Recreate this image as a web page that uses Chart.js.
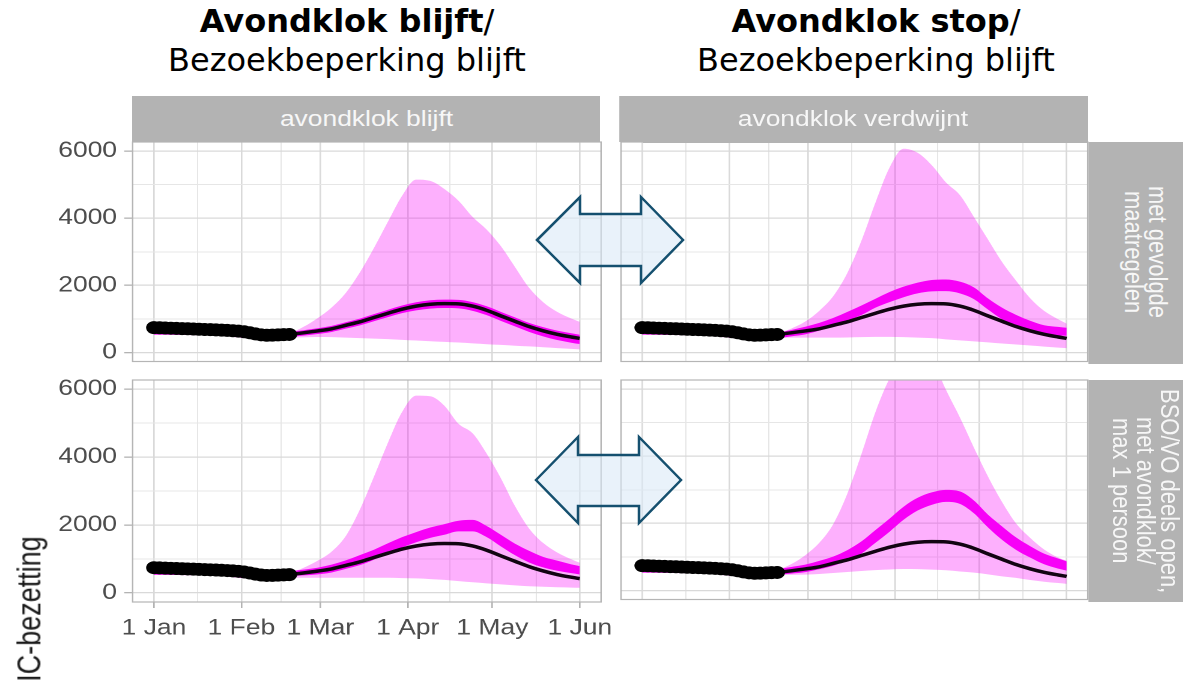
<!DOCTYPE html>
<html lang="nl">
<head>
<meta charset="utf-8">
<title>IC-bezetting per scenario</title>
<script src="https://cdn.jsdelivr.net/npm/chart.js@4.4.1/dist/chart.umd.min.js"></script>
<style>
  html, body { margin: 0; padding: 0; background: #fff; }
  body { width: 1183px; height: 689px; position: relative; overflow: hidden; }
  /* the original ggplot figure was pasted horizontally stretched */
  #fig { position: absolute; left: 0; top: 0; width: 986px; height: 689px; transform: scaleX(1.2); transform-origin: 0 0; }
  .panel { position: absolute; }
  .strip { position: absolute; background: #b3b3b3; color: #f7f7f7; font: 22px "Liberation Sans", Arial, sans-serif;
           display: flex; align-items: center; justify-content: center; overflow: hidden; white-space: nowrap; }
  .strip.side span { writing-mode: vertical-rl; text-align: center; line-height: 0.9; }
  #ytitle { position: absolute; left: 25px; top: 609px; transform: translate(-50%, -50%) rotate(-90deg);
            font: 27px "Liberation Sans", Arial, sans-serif; color: #1a1a1a; white-space: nowrap; }
  .title { position: absolute; top: 2px; width: 520px; text-align: center; color: #000;
           font: 32px/39px "DejaVu Sans", Verdana, sans-serif; }
  .title b { font-weight: bold; }
  #arrows { position: absolute; left: 0; top: 0; pointer-events: none; }
</style>
</head>
<body>
<div class="title" style="left:87px"><b>Avondklok blijft</b>/<br>Bezoekbeperking blijft</div>
<div class="title" style="left:616px"><b>Avondklok stop</b>/<br>Bezoekbeperking blijft</div>
<div id="fig">
  <div id="ytitle">IC-bezetting</div>
</div>
<svg id="arrows" width="1183" height="689">
  <g fill="#dbe9f6" fill-opacity="0.6" stroke="#15506f" stroke-width="2.5" stroke-linejoin="miter">
    <polygon points="537,240 580,197 580,214 641,214 641,197 683,240 641,283 641,266 580,266 580,283"/>
    <polygon points="536,480 578,437 578,455 639,455 639,437 681,480 639,523 639,506 578,506 578,523"/>
  </g>
</svg>
<script>
// ---- data (days since 1 Jan, IC-bezetting) ----
const obsDays = [0, 2, 4, 6, 8, 10, 12, 14, 16, 18, 20, 22, 24, 26, 28, 30, 32, 34, 36, 38, 40, 42, 44, 46, 48];
const obsIC = [740, 735, 728, 722, 716, 710, 704, 697, 690, 684, 678, 671, 664, 656, 646, 634, 615, 585, 552, 525, 512, 515, 522, 530, 536];

const fitDays = [0, 12, 24, 36, 48];
const fitIC = [620, 610, 585, 500, 520];

const projDays = [48, 53, 58, 63, 68, 73, 78, 83, 88, 93, 98, 103, 108, 113, 118, 123, 128, 133, 138, 143, 148, 151];
// reference scenario median (black line, same in every panel)
const refMedian = [535, 585, 640, 705, 808, 912, 1040, 1168, 1290, 1380, 1435, 1454, 1447, 1380, 1255, 1090, 930, 772, 645, 540, 460, 418];

// top-left: avondklok blijft / met gevolgde maatregelen
const band1Lo = [440, 450, 460, 455, 440, 425, 410, 395, 375, 355, 335, 315, 295, 270, 245, 225, 200, 180, 155, 130, 105, 90];
const band1Hi = [560, 760, 1020, 1340, 1770, 2380, 3110, 3900, 4670, 5150, 5110, 4870, 4520, 4040, 3660, 3170, 2550, 1930, 1500, 1210, 1010, 910];
const mag1Lo = [455, 500, 550, 610, 708, 807, 930, 1053, 1170, 1255, 1305, 1324, 1312, 1240, 1110, 940, 775, 612, 480, 370, 290, 250];
const mag1Hi = [605, 660, 720, 790, 898, 1007, 1140, 1273, 1400, 1495, 1555, 1574, 1567, 1500, 1375, 1210, 1045, 882, 755, 650, 570, 528];

// top-right: avondklok verdwijnt / met gevolgde maatregelen
const band2Lo = [430, 440, 440, 440, 440, 445, 455, 465, 465, 455, 440, 425, 390, 360, 330, 300, 265, 235, 205, 175, 145, 127];
const band2Hi = [560, 710, 920, 1240, 1680, 2370, 3330, 4470, 5510, 6070, 5950, 5580, 5070, 4690, 4040, 3370, 2700, 2140, 1620, 1240, 990, 860];
const mag2Lo = [420, 480, 540, 650, 785, 950, 1115, 1335, 1500, 1645, 1760, 1820, 1825, 1760, 1590, 1280, 990, 790, 610, 518, 505, 499];
const mag2Hi = [580, 670, 765, 880, 1030, 1210, 1400, 1600, 1800, 1960, 2080, 2160, 2175, 2110, 1940, 1610, 1335, 1120, 945, 810, 760, 734];

// bottom-left: avondklok blijft / BSO/VO deels open
const band3Lo = [443, 443, 443, 443, 443, 443, 443, 443, 435, 425, 405, 380, 345, 310, 280, 250, 220, 195, 180, 165, 155, 148];
const band3Hi = [580, 735, 945, 1215, 1670, 2450, 3420, 4430, 5330, 5810, 5790, 5510, 4980, 4700, 4100, 3380, 2560, 1900, 1470, 1190, 990, 885];
const mag3Lo = [490, 515, 545, 600, 705, 815, 975, 1170, 1340, 1490, 1620, 1710, 1810, 1810, 1640, 1370, 1110, 895, 750, 650, 580, 541];
const mag3Hi = [635, 685, 740, 830, 955, 1110, 1270, 1460, 1640, 1790, 1925, 2025, 2125, 2150, 1970, 1710, 1450, 1240, 1060, 950, 840, 787];

// bottom-right: avondklok verdwijnt / BSO/VO deels open
const band4Lo = [462, 465, 472, 490, 520, 550, 580, 605, 625, 638, 635, 620, 600, 565, 530, 480, 420, 375, 310, 260, 220, 197];
const band4Hi = [600, 785, 1050, 1420, 1985, 2890, 4065, 5320, 6320, 7000, 7250, 6900, 5990, 5160, 4260, 3400, 2640, 2000, 1570, 1220, 980, 885];
const mag4Lo = [460, 500, 545, 630, 735, 900, 1100, 1420, 1750, 2105, 2380, 2550, 2640, 2580, 2300, 1880, 1510, 1210, 980, 780, 650, 590];
const mag4Hi = [635, 700, 770, 880, 1010, 1200, 1460, 1800, 2140, 2495, 2760, 2920, 2995, 2950, 2680, 2260, 1910, 1580, 1320, 1095, 950, 866];

const xTickDays = [0, 31, 59, 90, 120, 151];
const xTickLabels = ['1 Jan', '1 Feb', '1 Mar', '1 Apr', '1 May', '1 Jun'];
const xMinorDays = [15.5, 45, 74.5, 105, 135.5];
const yTickValues = [0, 2000, 4000, 6000];
const yMinorValues = [1000, 3000, 5000];
const xLimits = [-7.55, 158.55];
const yLimits = [-270, 6270];

const colLabels = ['avondklok blijft', 'avondklok verdwijnt'];
const rowLabels = [['met gevolgde', 'maatregelen'], ['BSO/VO deels open,', 'met avondklok/', 'max 1 persoon']];

// ---- layout (final pixels; x gets divided by the stretch) ----
const S = 1.2;
const cols = [{ l: 132.5, r: 600.5 }, { l: 619, r: 1087 }];
const rows = [{ t: 141.5, b: 363.5 }, { t: 380, b: 602 }];
const splitX = 613;
const rightEdge = 1095;
const fig = document.getElementById('fig');

const majorGrid = '#d9d9d9';
const minorGrid = '#e6e6e6';
const tickGrey = '#b3b3b3';

Chart.defaults.font.family = '"Liberation Sans", Arial, sans-serif';
Chart.defaults.font.size = 22;
Chart.defaults.color = '#4d4d4d';

function place(el, x, y, w, h) {
  el.style.left = (x / S) + 'px';
  el.style.top = y + 'px';
  el.style.width = (w / S) + 'px';
  el.style.height = h + 'px';
}

function xy(xs, ys) {
  return xs.map((x, i) => ({ x, y: ys[i] }));
}

const panelBorder = {
  id: 'panelBorder',
  afterDraw(chart) {
    const { ctx, chartArea: a } = chart;
    ctx.save();
    ctx.strokeStyle = '#b5b5b5';
    ctx.lineWidth = 1.2;
    ctx.strokeRect(a.left, a.top, a.right - a.left, a.bottom - a.top);
    ctx.restore();
  }
};

function makePanel(row, col, bandLo, bandHi, magLo, magHi) {
  const wrapL = col === 0 ? 0 : splitX;
  const wrapR = col === 0 ? splitX : rightEdge;
  const padTop = 16, padBottom = 4;
  const showX = row === 1 && col === 0;
  const showY = col === 0;
  const xH = showX ? 48 : 0;
  const top = rows[row].t - padTop;

  const wrap = document.createElement('div');
  wrap.className = 'panel';
  place(wrap, wrapL, top, wrapR - wrapL, rows[row].b - top + xH + padBottom);
  const canvas = document.createElement('canvas');
  wrap.appendChild(canvas);
  fig.insertBefore(wrap, fig.firstChild);

  const yW = (cols[col].l - wrapL) / S;
  const padRight = (wrapR - cols[col].r) / S;
  const xGrid = [...xTickDays, ...xMinorDays].sort((a, b) => a - b);
  const yGrid = [...yTickValues, ...yMinorValues].sort((a, b) => a - b);
  const isMajX = (c) => c.tick && xTickDays.includes(c.tick.value);
  const isMajY = (c) => c.tick && yTickValues.includes(c.tick.value);

  new Chart(canvas, {
    type: 'line',
    data: {
      datasets: [
        { data: xy(obsDays, obsIC), borderColor: '#000', backgroundColor: '#000', borderWidth: 12,
          pointRadius: 6.5, pointBorderWidth: 0, borderCapStyle: 'round', borderJoinStyle: 'round', order: 0 },
        { data: xy(projDays, refMedian), borderColor: '#120412', borderWidth: 3.5, pointRadius: 0, order: 1 },
        { data: xy(fitDays, fitIC), borderColor: '#f700f7', borderWidth: 6, pointRadius: 0, order: 2 },
        { data: xy(projDays, magHi), borderWidth: 0, borderColor: 'transparent', pointRadius: 0,
          fill: '+1', backgroundColor: '#f700f7', order: 3 },
        { data: xy(projDays, magLo), borderWidth: 0, borderColor: 'transparent', pointRadius: 0, order: 4 },
        { data: xy(projDays, bandHi), borderWidth: 0, borderColor: 'transparent', pointRadius: 0,
          fill: '+1', backgroundColor: 'rgba(250,0,250,0.31)', order: 5 },
        { data: xy(projDays, bandLo), borderWidth: 0, borderColor: 'transparent', pointRadius: 0, order: 6 }
      ]
    },
    options: {
      responsive: true,
      maintainAspectRatio: false,
      animation: false,
      events: [],
      devicePixelRatio: 2,
      layout: { padding: { top: padTop, right: padRight, bottom: padBottom, left: 0 } },
      elements: { line: { cubicInterpolationMode: 'monotone' } },
      plugins: { legend: { display: false }, tooltip: { enabled: false } },
      scales: {
        x: {
          type: 'linear', min: xLimits[0], max: xLimits[1],
          border: { display: false },
          afterBuildTicks: (s) => { s.ticks = xGrid.map(v => ({ value: v })); },
          afterFit: (s) => { s.height = xH; s.paddingLeft = 0; s.paddingRight = 0; },
          grid: {
            color: (c) => isMajX(c) ? majorGrid : minorGrid,
            lineWidth: (c) => isMajX(c) ? 1.3 : 1,
            drawTicks: showX, tickLength: 6,
            tickColor: (c) => isMajX(c) ? tickGrey : 'rgba(0,0,0,0)'
          },
          ticks: {
            display: showX, autoSkip: false, maxRotation: 0, padding: 7,
            callback: (v) => { const i = xTickDays.indexOf(v); return i < 0 ? '' : xTickLabels[i]; }
          }
        },
        y: {
          type: 'linear', min: yLimits[0], max: yLimits[1],
          border: { display: false },
          afterBuildTicks: (s) => { s.ticks = yGrid.map(v => ({ value: v })); },
          afterFit: (s) => { s.width = yW; s.paddingTop = 0; s.paddingBottom = 0; },
          grid: {
            color: (c) => isMajY(c) ? majorGrid : minorGrid,
            lineWidth: (c) => isMajY(c) ? 1.3 : 1,
            drawTicks: showY, tickLength: 7,
            tickColor: (c) => isMajY(c) ? tickGrey : 'rgba(0,0,0,0)'
          },
          ticks: {
            display: showY, padding: 6,
            callback: (v) => yTickValues.includes(v) ? String(v) : ''
          }
        }
      }
    },
    plugins: [panelBorder]
  });
}

// strips
colLabels.forEach((txt, c) => {
  const d = document.createElement('div');
  d.className = 'strip';
  d.textContent = txt;
  place(d, cols[c].l, 96, cols[c].r - cols[c].l, rows[0].t - 96);
  fig.appendChild(d);
});
rowLabels.forEach((lines, r) => {
  const d = document.createElement('div');
  d.className = 'strip side';
  const sp = document.createElement('span');
  sp.innerHTML = lines.join('<br>');
  d.appendChild(sp);
  place(d, cols[1].r + 1, rows[r].t, 115, rows[r].b - rows[r].t);
  fig.appendChild(d);
});

makePanel(0, 0, band1Lo, band1Hi, mag1Lo, mag1Hi);
makePanel(0, 1, band2Lo, band2Hi, mag2Lo, mag2Hi);
makePanel(1, 0, band3Lo, band3Hi, mag3Lo, mag3Hi);
makePanel(1, 1, band4Lo, band4Hi, mag4Lo, mag4Hi);
</script>
</body>
</html>
